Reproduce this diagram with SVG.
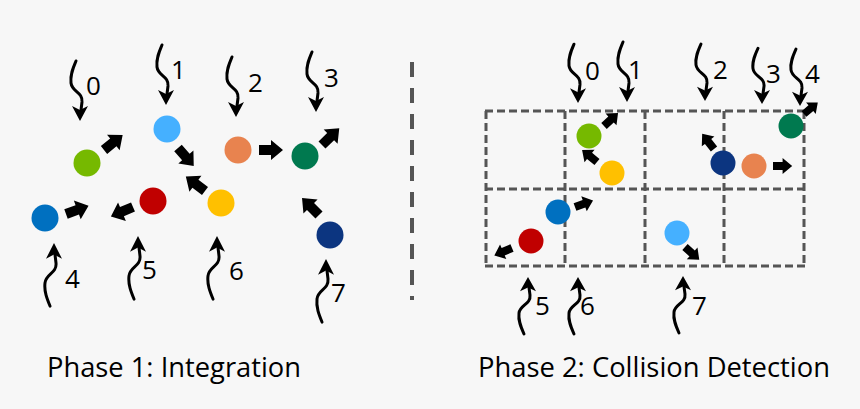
<svg xmlns="http://www.w3.org/2000/svg" xmlns:xlink="http://www.w3.org/1999/xlink" width="860" height="409" viewBox="0 0 860 409">
<style>
.bg{fill:#f7f7f7}
.lbl{font-family:"Open Sans","DejaVu Sans",sans-serif;font-size:26px;fill:#000}
.title{font-family:"Open Sans","DejaVu Sans",sans-serif;font-size:27px;fill:#000}
.grid line{stroke:#555;stroke-width:3;stroke-dasharray:8 4;fill:none}
.sep{stroke:#555;stroke-width:4;stroke-dasharray:15 11}
.sq{fill:none;stroke:#000;stroke-width:3;stroke-linecap:round}
</style>
<defs>
<path id="fa" d="M0,-5 L12,-5 L12,-10 L24,0 L12,10 L12,5 L0,5 Z" fill="#000"/>
<g id="sq">
<path class="sq" d="M-4,-60 C-7,-53 -10,-46 -9,-38 C-8,-29 3,-29 2,-19 L1,-11"/>
<path d="M0,0 L-8,-15 L0,-11 L8,-15 Z" fill="#000"/>
</g>
</defs>
<rect class="bg" x="0" y="0" width="860" height="409"/>

<line class="sep" x1="412" y1="62" x2="412" y2="300"/>

<g id="grid" class="grid">
<line x1="485" y1="111" x2="805" y2="111"/>
<line x1="485" y1="189" x2="805" y2="189"/>
<line x1="485" y1="266" x2="805" y2="266"/>
<line x1="486" y1="111" x2="486" y2="266"/>
<line x1="565" y1="111" x2="565" y2="266"/>
<line x1="645" y1="111" x2="645" y2="266"/>
<line x1="724" y1="111" x2="724" y2="266"/>
<line x1="804" y1="111" x2="804" y2="266"/>
</g>

<!-- Phase 1 particles -->
<g id="p1-0"><circle cx="87" cy="163" r="13.5" fill="#76b900"/></g>
<g id="p1-1"><circle cx="167" cy="129" r="13.5" fill="#45b0ff"/></g>
<g id="p1-2"><circle cx="238" cy="150" r="13.5" fill="#e8834f"/></g>
<g id="p1-3"><circle cx="305" cy="156" r="13.5" fill="#00794f"/></g>
<g id="p1-4"><circle cx="45" cy="218" r="13.5" fill="#0070c0"/></g>
<g id="p1-5"><circle cx="153" cy="201" r="13.5" fill="#c00000"/></g>
<g id="p1-6"><circle cx="221" cy="203" r="13.5" fill="#ffc000"/></g>
<g id="p1-7"><circle cx="330" cy="235" r="13.5" fill="#0c3580"/></g>

<!-- Phase 2 particles -->
<g id="p2-0"><circle cx="589" cy="136" r="12.5" fill="#76b900"/></g>
<g id="p2-1"><circle cx="677" cy="233" r="12.5" fill="#45b0ff"/></g>
<g id="p2-2"><circle cx="754" cy="166" r="12.5" fill="#e8834f"/></g>
<g id="p2-3"><circle cx="791" cy="126" r="12.5" fill="#00794f"/></g>
<g id="p2-4"><circle cx="558" cy="212" r="12.5" fill="#0070c0"/></g>
<g id="p2-5"><circle cx="531" cy="241" r="12.5" fill="#c00000"/></g>
<g id="p2-6"><circle cx="612" cy="173" r="12.5" fill="#ffc000"/></g>
<g id="p2-7"><circle cx="723" cy="163" r="12.5" fill="#0c3580"/></g>

<g id="connectors">
<!-- velocity arrows phase 1 -->
<use xlink:href="#fa" href="#fa" transform="translate(104,150) rotate(-39)"/>
<use xlink:href="#fa" href="#fa" transform="translate(178,148) rotate(49)"/>
<use xlink:href="#fa" href="#fa" transform="translate(259,150)"/>
<use xlink:href="#fa" href="#fa" transform="translate(322,145) rotate(-44)"/>
<use xlink:href="#fa" href="#fa" transform="translate(66,214) rotate(-20)"/>
<use xlink:href="#fa" href="#fa" transform="translate(133,207) rotate(157)"/>
<use xlink:href="#fa" href="#fa" transform="translate(205,191) rotate(-143)"/>
<use xlink:href="#fa" href="#fa" transform="translate(319,215) rotate(-135)"/>
<!-- velocity arrows phase 2 -->
<use xlink:href="#fa" href="#fa" transform="translate(604,126) rotate(-43) scale(0.8)"/>
<use xlink:href="#fa" href="#fa" transform="translate(597,162) rotate(-141) scale(0.8)"/>
<use xlink:href="#fa" href="#fa" transform="translate(714,149) rotate(-128) scale(0.8)"/>
<use xlink:href="#fa" href="#fa" transform="translate(773,166) scale(0.8)"/>
<use xlink:href="#fa" href="#fa" transform="translate(804,114) rotate(-40) scale(0.75)"/>
<use xlink:href="#fa" href="#fa" transform="translate(575,207) rotate(-20) scale(0.8)"/>
<use xlink:href="#fa" href="#fa" transform="translate(512,248) rotate(157) scale(0.8)"/>
<use xlink:href="#fa" href="#fa" transform="translate(685,247) rotate(42) scale(0.8)"/>

<!-- squiggles phase 1 -->
<use xlink:href="#sq" href="#sq" transform="translate(80,121)"/>
<use xlink:href="#sq" href="#sq" transform="translate(166,105)"/>
<use xlink:href="#sq" href="#sq" transform="translate(236,117)"/>
<use xlink:href="#sq" href="#sq" transform="translate(316,112)"/>
<use xlink:href="#sq" href="#sq" transform="translate(54,243) scale(1,-1.05)"/>
<use xlink:href="#sq" href="#sq" transform="translate(138,236) scale(1,-1.05)"/>
<use xlink:href="#sq" href="#sq" transform="translate(217,236) scale(1,-1.05)"/>
<use xlink:href="#sq" href="#sq" transform="translate(326,259) scale(1,-1.05)"/>
<!-- squiggles phase 2 -->
<use xlink:href="#sq" href="#sq" transform="translate(578,103) scale(1,0.98)"/>
<use xlink:href="#sq" href="#sq" transform="translate(627,102) scale(1,1)"/>
<use xlink:href="#sq" href="#sq" transform="translate(705,101) scale(1,0.95)"/>
<use xlink:href="#sq" href="#sq" transform="translate(762,104) scale(1,0.93)"/>
<use xlink:href="#sq" href="#sq" transform="translate(800,106) scale(1,0.95)"/>
<use xlink:href="#sq" href="#sq" transform="translate(528,277) scale(1,-0.95)"/>
<use xlink:href="#sq" href="#sq" transform="translate(578,277) scale(1,-0.95)"/>
<use xlink:href="#sq" href="#sq" transform="translate(683,276) scale(1,-0.95)"/>
</g>

<g id="labels">
<text class="lbl" x="86" y="95">0</text>
<text class="lbl" x="171" y="79">1</text>
<text class="lbl" x="248" y="92">2</text>
<text class="lbl" x="324" y="87">3</text>
<text class="lbl" x="65" y="288">4</text>
<text class="lbl" x="142" y="279">5</text>
<text class="lbl" x="229" y="280">6</text>
<text class="lbl" x="331" y="302">7</text>
<text class="lbl" x="585" y="80">0</text>
<text class="lbl" x="628" y="79">1</text>
<text class="lbl" x="713" y="79">2</text>
<text class="lbl" x="766" y="83">3</text>
<text class="lbl" x="805" y="83">4</text>
<text class="lbl" x="535" y="315">5</text>
<text class="lbl" x="580" y="315">6</text>
<text class="lbl" x="692" y="315">7</text>
</g>

<text class="title" x="47" y="377" textLength="254" lengthAdjust="spacingAndGlyphs">Phase 1: Integration</text>
<text class="title" x="478" y="377" textLength="352" lengthAdjust="spacingAndGlyphs">Phase 2: Collision Detection</text>
</svg>
